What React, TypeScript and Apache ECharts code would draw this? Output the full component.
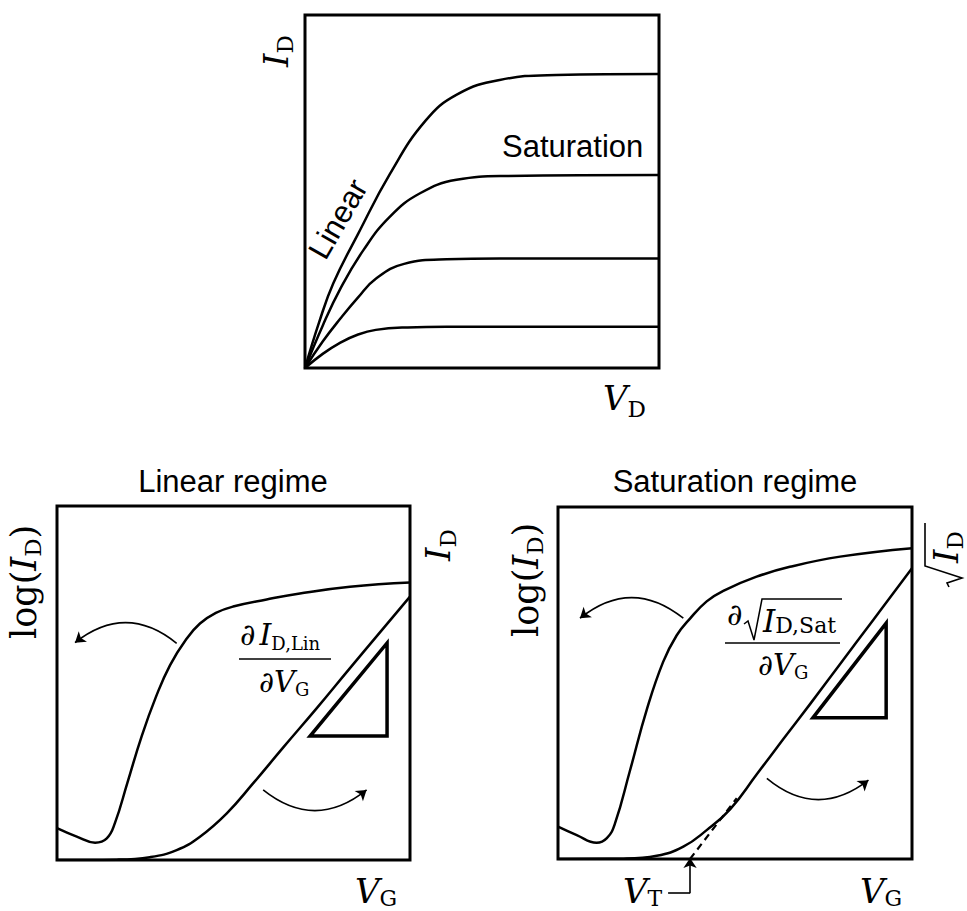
import React, { useEffect, useRef } from 'react';
import * as echarts from 'echarts';

// ---------- Output characteristics (I_D vs V_D), four gate voltages ----------
const outCurve1: [number, number][] = [[0, 0], [4, 13], [8, 24], [15, 38], [24, 55], [34, 70], [43, 77.5], [55, 81.6], [71, 83], [100, 83.3]];
const outCurve2: [number, number][] = [[0, 0], [5, 12], [10, 22.5], [16.5, 33.4], [24, 42.9], [32.5, 49.5], [42.8, 53.3], [57, 54.4], [100, 54.7]];
const outCurve3: [number, number][] = [[0, 0], [5, 7.5], [10, 14], [15, 20], [20, 25.3], [28, 29.5], [40, 30.8], [55, 31], [100, 31]];
const outCurve4: [number, number][] = [[0, 0], [5, 4], [10, 7.2], [15, 9.5], [20, 10.8], [29, 11.5], [40, 11.7], [100, 11.7]];

// ---------- Linear regime transfer curves ----------
const linLog: [number, number][] = [[0, 9], [5.6, 6.6], [10.8, 4.9], [14.1, 6.1], [16.4, 10.4], [20, 22], [24, 35], [28, 46], [32, 55], [36.7, 62.5], [40.5, 66.8], [45, 69.8], [49.9, 71.6], [59.4, 73.6], [68.8, 75.3], [83, 77.2], [100, 78.4]];
const linCurrent: [number, number][] = [[0, 0], [16.9, 0.1], [26.3, 0.8], [33.9, 2.8], [40.5, 6.6], [48.1, 13.2], [55.6, 21.7], [64.1, 31.8], [73.6, 42.9], [83, 54.2], [100, 74.4]];
const linTriangle: [number, number][] = [[71.7, 35], [93.5, 35], [93.5, 61.3], [71.7, 35], [93.5, 35]];
const linArrowLeft: [number, number][] = [[33.9, 61.2], [5.1, 61.4]];
const linArrowRight: [number, number][] = [[58.4, 19.8], [87.7, 19.8]];

// ---------- Saturation regime transfer curves ----------
const satLog: [number, number][] = [[0, 9.2], [5.3, 6.8], [10.9, 4.6], [13.8, 5.9], [16.1, 10.1], [20.3, 25], [25.1, 42.5], [29.7, 56], [33.5, 63.5], [37.3, 68.3], [42, 73.2], [46.7, 76.2], [56.1, 80.2], [65.5, 83], [79.7, 85.9], [100, 88.3]];
const satSqrt: [number, number][] = [[0, 0], [18.5, 0.1], [27.9, 0.9], [35.4, 3.5], [42, 8.2], [48.6, 14.1], [56.1, 24], [63.6, 34], [71.2, 44], [79.7, 55.4], [89.1, 68], [100, 82.6]];
const satTriangle: [number, number][] = [[72, 40.1], [92.7, 40.1], [92.7, 67], [72, 40.1], [92.7, 40.1]];
const satArrowLeft: [number, number][] = [[35.4, 68.4], [6.2, 68.4]];
const satArrowRight: [number, number][] = [[59, 22.9], [87.7, 22.4]];
const vtExtrapolation: [number, number][] = [[37.3, 0], [50.5, 17.3]];
const vtPointerH: [number, number][] = [[31.1, -9.7], [37.3, -9.7]];
const vtPointerV: [number, number][] = [[37.3, -9.7], [37.3, 0.3]];

// ---------- Texts ----------
const topTitleLeft = 'Linear regime';
const topTitleRight = 'Saturation regime';
const outLabelSat = 'Saturation';
const outLabelLin = 'Linear';

const MATH = '"DejaVu Serif", serif';
const SANS = '"Liberation Sans", Arial, sans-serif';

let measureCtx: CanvasRenderingContext2D | null = null;
function measure(t: string, size: number, italic: boolean, family: string) {
  if (!measureCtx) measureCtx = document.createElement('canvas').getContext('2d');
  measureCtx!.font = `${italic ? 'italic ' : ''}${size}px ${family}`;
  return measureCtx!.measureText(t).width;
}

type Part = { t: string; size: number; italic?: boolean; dy?: number; dx?: number; family?: string };

function txt(t: string, x: number, y: number, size: number, italic: boolean, family: string, align = 'left') {
  return {
    type: 'text',
    x,
    y,
    silent: true,
    style: {
      text: t,
      fontSize: size,
      fontFamily: family,
      fontStyle: italic ? 'italic' : 'normal',
      fill: '#000',
      align,
      textAlign: align,
      verticalAlign: 'middle',
      textVerticalAlign: 'middle',
    },
  };
}

function run(x: number, y: number, parts: Part[], rotation = 0, extra: any[] = []) {
  let cx = 0;
  const children: any[] = parts.map((p) => {
    const fam = p.family || MATH;
    cx += p.dx || 0;
    const el = txt(p.t, cx, (p.dy || 0) - 0.346 * p.size, p.size, !!p.italic, fam);
    cx += measure(p.t, p.size, !!p.italic, fam);
    return el;
  });
  return { type: 'group', x, y, rotation, children: [...children, ...extra] };
}

function lineSeries(data: [number, number][], idx: number, width = 2.5, smooth: number | boolean = 0.45) {
  return {
    type: 'line',
    xAxisIndex: idx,
    yAxisIndex: idx,
    data,
    smooth,
    symbol: 'none',
    silent: true,
    lineStyle: { color: '#000', width, join: 'miter' },
  };
}

function arrowSeries(coords: [number, number][], idx: number, curveness: number, withArrow = true, dashed = false, width = 1.6) {
  return {
    type: 'lines',
    coordinateSystem: 'cartesian2d',
    xAxisIndex: idx,
    yAxisIndex: idx,
    clip: false,
    silent: true,
    symbol: withArrow ? ['none', 'arrow'] : ['none', 'none'],
    symbolSize: 10,
    lineStyle: { color: '#000', width, opacity: 1, curveness, type: dashed ? [7, 5] : 'solid' },
    data: [{ coords }],
  };
}

export default function App() {
  const ref = useRef<HTMLDivElement>(null);
  useEffect(() => {
    if (!ref.current) return;
    const chart = echarts.init(ref.current, undefined, { renderer: 'svg' });
    const grids = [
      { left: 305, top: 15, width: 354, height: 353 },
      { left: 57, top: 506, width: 353, height: 354 },
      { left: 558, top: 507, width: 354, height: 352 },
    ].map((g) => ({ ...g, show: true, borderColor: '#000', borderWidth: 3, backgroundColor: 'transparent' }));
    const axes = [0, 1, 2].map((i) => ({ type: 'value', gridIndex: i, min: 0, max: 100, show: false }));

    const radicalRight = {
      type: 'polyline',
      silent: true,
      shape: { points: [[-24, -9], [-20, -11], [-15, 4], [-3, -33], [40, -33]] },
      style: { stroke: '#000', lineWidth: 1.6, fill: null },
    };

    const graphic: any[] = [
      // titles
      txt(topTitleLeft, 233, 481, 31, false, SANS, 'center'),
      txt(topTitleRight, 735, 481, 31, false, SANS, 'center'),
      // output plot labels
      txt(outLabelSat, 502, 146.5, 31, false, SANS, 'left'),
      { ...txt(outLabelLin, 338, 219, 31, false, SANS, 'center'), rotation: Math.PI / 3 },
      // axis labels
      run(603, 410, [{ t: 'V', size: 34, italic: true }, { t: 'D', size: 23, dy: 7 }]),
      run(288, 67, [{ t: 'I', size: 34, italic: true }, { t: 'D', size: 23, dy: 5 }], Math.PI / 2),
      run(36, 639, [{ t: 'log(', size: 35 }, { t: 'I', size: 35, italic: true }, { t: 'D', size: 23, dy: 5 }, { t: ')', size: 35 }], Math.PI / 2),
      run(450, 561, [{ t: 'I', size: 34, italic: true }, { t: 'D', size: 23, dy: 6 }], Math.PI / 2),
      run(355, 903, [{ t: 'V', size: 34, italic: true }, { t: 'G', size: 22, dy: 3 }]),
      run(538, 637, [{ t: 'log(', size: 35 }, { t: 'I', size: 35, italic: true }, { t: 'D', size: 23, dy: 5 }, { t: ')', size: 35 }], Math.PI / 2),
      run(860, 903, [{ t: 'V', size: 34, italic: true }, { t: 'G', size: 22, dy: 3 }]),
      run(623, 903, [{ t: 'V', size: 34, italic: true }, { t: 'T', size: 22, dy: 3 }]),
      run(958, 563, [{ t: 'I', size: 34, italic: true }, { t: 'D', size: 23, dy: 5 }], Math.PI / 2, [radicalRight]),
      // linear fraction
      run(240, 645, [{ t: '∂', size: 30, italic: true }, { t: 'I', size: 30, italic: true, dx: 4 }, { t: 'D,Lin', size: 18, dy: 5 }]),
      { type: 'line', silent: true, shape: { x1: 239, y1: 659, x2: 331, y2: 659 }, style: { stroke: '#000', lineWidth: 1.5 } },
      run(259, 692, [{ t: '∂', size: 29, italic: true }, { t: 'V', size: 29, italic: true }, { t: 'G', size: 18, dy: 4 }]),
      // saturation fraction
      run(727, 625, [{ t: '∂', size: 30, italic: true }]),
      {
        type: 'polyline',
        silent: true,
        shape: { points: [[744, 624], [748, 621], [754, 640], [762, 599], [842, 599]] },
        style: { stroke: '#000', lineWidth: 1.5, fill: null },
      },
      run(763, 632, [{ t: 'I', size: 31, italic: true }, { t: 'D,Sat', size: 22, dy: 1 }]),
      { type: 'line', silent: true, shape: { x1: 725, y1: 643, x2: 840, y2: 643 }, style: { stroke: '#000', lineWidth: 1.5 } },
      run(758, 675, [{ t: '∂', size: 29, italic: true }, { t: 'V', size: 29, italic: true }, { t: 'G', size: 18, dy: 4 }]),
    ];

    chart.setOption({
      animation: false,
      backgroundColor: '#fff',
      grid: grids,
      xAxis: axes,
      yAxis: axes,
      series: [
        lineSeries(outCurve1, 0),
        lineSeries(outCurve2, 0),
        lineSeries(outCurve3, 0),
        lineSeries(outCurve4, 0),
        lineSeries(linLog, 1),
        lineSeries(linCurrent, 1),
        lineSeries(linTriangle, 1, 3.5, false),
        arrowSeries(linArrowLeft, 1, -0.4),
        arrowSeries(linArrowRight, 1, -0.4),
        lineSeries(satLog, 2),
        lineSeries(satSqrt, 2),
        lineSeries(satTriangle, 2, 3.5, false),
        arrowSeries(satArrowLeft, 2, -0.4),
        arrowSeries(satArrowRight, 2, -0.4),
        arrowSeries(vtExtrapolation, 2, 0, false, true, 2.2),
        arrowSeries(vtPointerH, 2, 0, false),
        arrowSeries(vtPointerV, 2, 0, true),
      ],
      graphic,
    });
    return () => chart.dispose();
  }, []);
  return <div ref={ref} style={{ position: 'absolute', left: 0, top: 0, width: 967, height: 911 }} />;
}
